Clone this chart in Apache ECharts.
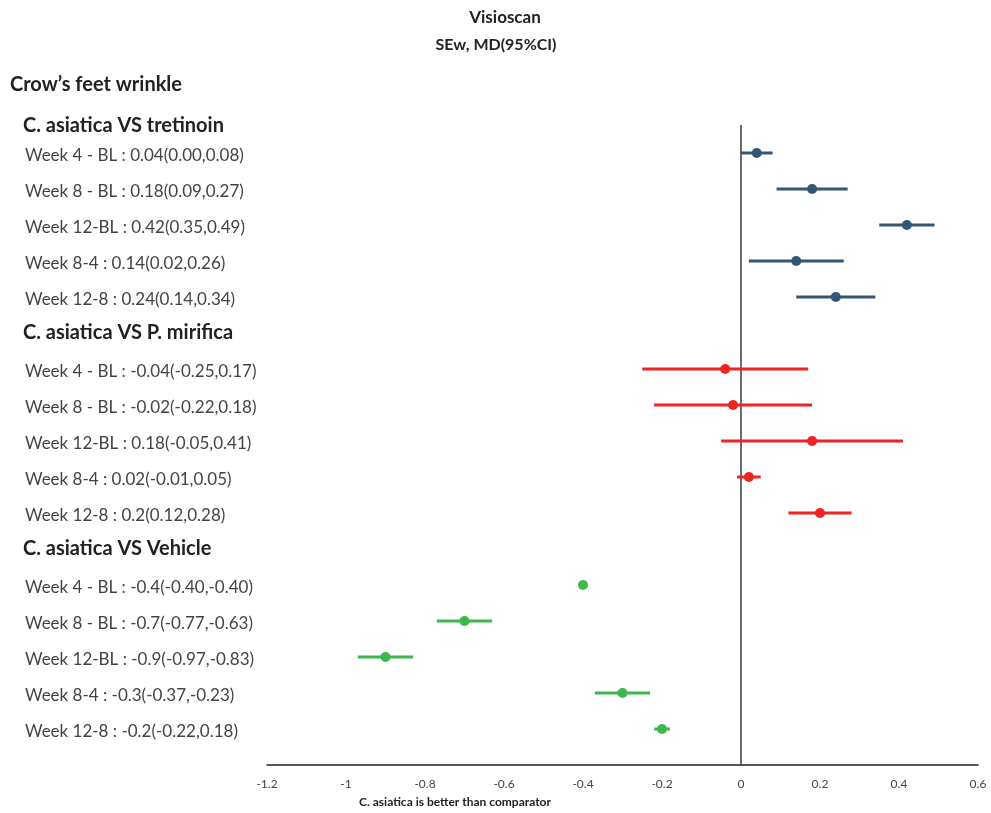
<!DOCTYPE html>
<html><head><meta charset="utf-8">
<script src="https://cdn.jsdelivr.net/npm/echarts@6/dist/echarts.min.js"></script>
<style>html,body{margin:0;padding:0;background:#fff}#c{width:991px;height:813px}</style>
</head><body><div id="c"></div>
<script>
// ---- data ----
const groupNames = ['C. asiatica VS tretinoin', 'C. asiatica VS P. mirifica', 'C. asiatica VS Vehicle'];
const tretLabels = ['Week 4 - BL : 0.04(0.00,0.08)', 'Week 8 - BL : 0.18(0.09,0.27)', 'Week 12-BL : 0.42(0.35,0.49)', 'Week 8-4 : 0.14(0.02,0.26)', 'Week 12-8 : 0.24(0.14,0.34)'];
const tretMean = [0.04, 0.18, 0.42, 0.14, 0.24];
const tretLow  = [0.00, 0.09, 0.35, 0.02, 0.14];
const tretHigh = [0.08, 0.27, 0.49, 0.26, 0.34];
const miriLabels = ['Week 4 - BL : -0.04(-0.25,0.17)', 'Week 8 - BL : -0.02(-0.22,0.18)', 'Week 12-BL : 0.18(-0.05,0.41)', 'Week 8-4 : 0.02(-0.01,0.05)', 'Week 12-8 : 0.2(0.12,0.28)'];
const miriMean = [-0.04, -0.02, 0.18, 0.02, 0.20];
const miriLow  = [-0.25, -0.22, -0.05, -0.01, 0.12];
const miriHigh = [0.17, 0.18, 0.41, 0.05, 0.28];
const vehLabels = ['Week 4 - BL : -0.4(-0.40,-0.40)', 'Week 8 - BL : -0.7(-0.77,-0.63)', 'Week 12-BL : -0.9(-0.97,-0.83)', 'Week 8-4 : -0.3(-0.37,-0.23)', 'Week 12-8 : -0.2(-0.22,0.18)'];
const vehMean = [-0.4, -0.7, -0.9, -0.3, -0.2];
const vehLow  = [-0.40, -0.77, -0.97, -0.37, -0.22];
const vehHigh = [-0.40, -0.63, -0.83, -0.23, -0.18];
const xTicks = [-1.2, -1, -0.8, -0.6, -0.4, -0.2, 0, 0.2, 0.4, 0.6];

// ---- layout of rows (slot indices on the hidden y axis) ----
const groupHeaderSlot = [-0.75, 5, 11];
const groupRowStart = [0, 6, 12];
const colors = ['#345573', '#f02222', '#3db84a'];
const groups = [
  {labels: tretLabels, mean: tretMean, low: tretLow, high: tretHigh},
  {labels: miriLabels, mean: miriMean, low: miriLow, high: miriHigh},
  {labels: vehLabels, mean: vehMean, low: vehLow, high: vehHigh}
];

const FONT = 'Lato, "Open Sans", sans-serif';
const chart = echarts.init(document.getElementById('c'), null, {renderer: 'canvas'});

const series = [];
// zero reference line
series.push({
  type: 'line', data: [[0, -0.78], [0, 17]], symbol: 'none', silent: true,
  lineStyle: {color: '#3a3a3a', width: 1.5}, z: 1
});
groups.forEach((g, gi) => {
  const errData = g.mean.map((m, i) => [g.low[i], g.high[i], groupRowStart[gi] + i]);
  series.push({
    type: 'custom', z: 2,
    renderItem: function (params, api) {
      const p1 = api.coord([api.value(0), api.value(2)]);
      const p2 = api.coord([api.value(1), api.value(2)]);
      return {type: 'line', shape: {x1: p1[0], y1: p1[1], x2: p2[0], y2: p2[1]},
        style: {stroke: colors[gi], lineWidth: 3}};
    },
    encode: {x: [0, 1], y: 2},
    data: errData
  });
  series.push({
    type: 'scatter', z: 3, symbol: 'circle', symbolSize: 10,
    itemStyle: {color: colors[gi], opacity: 1},
    data: g.mean.map((m, i) => [m, groupRowStart[gi] + i])
  });
});

chart.setOption({
  animation: false,
  grid: {left: 267, right: 13, top: 117, bottom: 48},
  xAxis: {
    type: 'value', min: -1.2, max: 0.6, interval: 0.2,
    axisLine: {show: true, onZero: false, lineStyle: {color: '#222', width: 1.5}},
    axisTick: {show: false}, splitLine: {show: false},
    axisLabel: {color: '#444', fontSize: 12, fontFamily: FONT, margin: 13,
      formatter: v => { const t = xTicks.find(x => Math.abs(x - v) < 1e-9); return t === undefined ? '' : String(t); }}
  },
  yAxis: {type: 'value', inverse: true, min: -1, max: 17, show: false},
  series: series
});

// text labels placed through the library's y scale
const elements = [];
elements.push({type: 'text', x: 505, y: 18, style: {text: 'Visioscan', font: 'bold 17px ' + FONT, fill: '#222', textAlign: 'center', textVerticalAlign: 'middle'}});
elements.push({type: 'text', x: 496, y: 45, style: {text: 'SEw, MD(95%CI)', font: 'bold 16px ' + FONT, fill: '#222', textAlign: 'center', textVerticalAlign: 'middle'}});
elements.push({type: 'text', x: 10, y: 85, style: {text: 'Crow\u2019s feet wrinkle', font: 'bold 20px ' + FONT, fill: '#222', textVerticalAlign: 'middle'}});
groups.forEach((g, gi) => {
  const hy = chart.convertToPixel({gridIndex: 0}, [0, groupHeaderSlot[gi]])[1];
  elements.push({type: 'text', x: 23, y: hy, style: {text: groupNames[gi], font: 'bold 20px ' + FONT, fill: '#222', textVerticalAlign: 'middle'}});
  g.labels.forEach((lab, i) => {
    const y = chart.convertToPixel({gridIndex: 0}, [0, groupRowStart[gi] + i])[1];
    elements.push({type: 'text', x: 25, y: y + 3, style: {text: lab, font: '17px ' + FONT, fill: '#444', textVerticalAlign: 'middle'}});
  });
});
elements.push({type: 'text', x: 455, y: 802, style: {text: 'C. asiatica is better than comparator', font: 'bold 12px ' + FONT, fill: '#222', textAlign: 'center', textVerticalAlign: 'middle'}});
chart.setOption({graphic: {elements: elements}});
</script></body></html>
